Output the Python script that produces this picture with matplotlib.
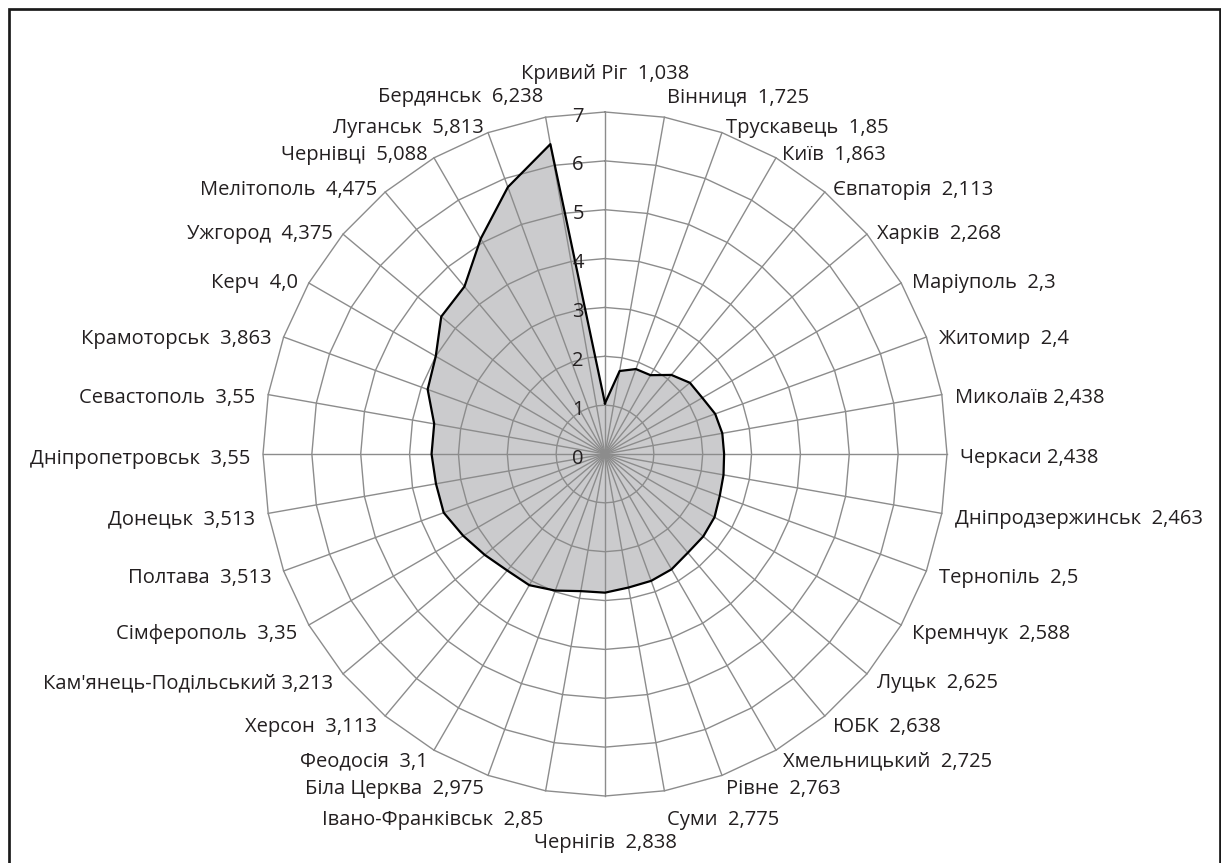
import matplotlib
matplotlib.use("Agg")
import numpy as np
import matplotlib.pyplot as plt
from matplotlib.patches import Rectangle

cities = ["Кривий Ріг", "Вінниця", "Трускавець", "Київ", "Євпаторія", "Харків",
          "Маріуполь", "Житомир", "Миколаїв", "Черкаси", "Дніпродзержинськ",
          "Тернопіль", "Кремнчук", "Луцьк", "ЮБК", "Хмельницький", "Рівне",
          "Суми", "Чернігів", "Івано-Франківськ", "Біла Церква", "Феодосія",
          "Херсон", "Кам'янець-Подільський", "Сімферополь", "Полтава",
          "Донецьк", "Дніпропетровськ", "Севастополь", "Крамоторськ", "Керч",
          "Ужгород", "Мелітополь", "Чернівці", "Луганськ", "Бердянськ"]
value_text = ["1,038", "1,725", "1,85", "1,863", "2,113", "2,268", "2,3", "2,4",
              "2,438", "2,438", "2,463", "2,5", "2,588", "2,625", "2,638",
              "2,725", "2,763", "2,775", "2,838", "2,85", "2,975", "3,1",
              "3,113", "3,213", "3,35", "3,513", "3,513", "3,55", "3,55",
              "3,863", "4,0", "4,375", "4,475", "5,088", "5,813", "6,238"]
values = [1.038, 1.725, 1.85, 1.863, 2.113, 2.268, 2.3, 2.4, 2.438, 2.438,
          2.463, 2.5, 2.588, 2.625, 2.638, 2.725, 2.763, 2.775, 2.838, 2.85,
          2.975, 3.1, 3.113, 3.213, 3.35, 3.513, 3.513, 3.55, 3.55, 3.863,
          4.0, 4.375, 4.475, 5.088, 5.813, 6.44]
r_ticks = [0, 1, 2, 3, 4, 5, 6, 7]

FONT = ["Open Sans", "DejaVu Sans"]
FS = 14.5
TXT = "#231f20"
GRID = "#8c8c8c"
FILL = "#cbcbcd"
single_space = {"Миколаїв", "Черкаси", "Кам'янець-Подільський"}

W, H = 1221, 863
fig = plt.figure(figsize=(W / 100, H / 100), dpi=100)
cx, cy, R = 605, 454, 342
ax = fig.add_axes([(cx - R) / W, 1 - (cy + R) / H, 2 * R / W, 2 * R / H],
                  projection="polar")
ax.set_theta_zero_location("N")
ax.set_theta_direction(-1)
ax.set_ylim(0, max(r_ticks))
ax.set_axis_off()

n = len(cities)
theta = np.arange(n) * 2 * np.pi / n
tc = np.append(theta, theta[0])

ax.fill(theta, values, facecolor=FILL, edgecolor="none", zorder=1)
for r in r_ticks[1:]:
    ax.plot(tc, [r] * (n + 1), color=GRID, lw=1.0, zorder=2, clip_on=False)
for t in theta:
    ax.plot([t, t], [0, max(r_ticks)], color=GRID, lw=1.0, zorder=2, clip_on=False)
ax.plot(tc, np.append(values, values[0]), color="black", lw=1.6, zorder=3)

px = 0.72
for r in r_ticks:
    ax.annotate(str(r), xy=(0, r), xytext=(-27 * px, -9.5 * px),
                textcoords="offset points", ha="center", va="baseline",
                fontsize=FS, family=FONT, color=TXT, zorder=4)

for i, t in enumerate(theta):
    s, c = np.sin(t), np.cos(t)
    if abs(s) < 0.05:
        ha = "center"
    elif s > 0:
        ha = "left"
    else:
        ha = "right"
    dx = 13 * s
    extra = 35 * np.exp(-(1 - abs(c)) / 0.02) * np.sign(c)
    dy_down = -8 * c + 2 - extra + 7.5
    sep = " " if cities[i] in single_space else "  "
    ax.annotate(cities[i] + sep + value_text[i], xy=(t, max(r_ticks)),
                xytext=(dx * px, -dy_down * px), textcoords="offset points",
                ha=ha, va="baseline", fontsize=FS, family=FONT,
                color=TXT, annotation_clip=False)

fig.add_artist(Rectangle((8.7 / W, -10 / H), (1219.5 - 8.7) / W, (H - 8.7 + 10) / H,
                         transform=fig.transFigure, fill=False,
                         edgecolor="#1a1a1a", lw=1.95, clip_on=False))

fig.savefig("out.png", dpi=100)
